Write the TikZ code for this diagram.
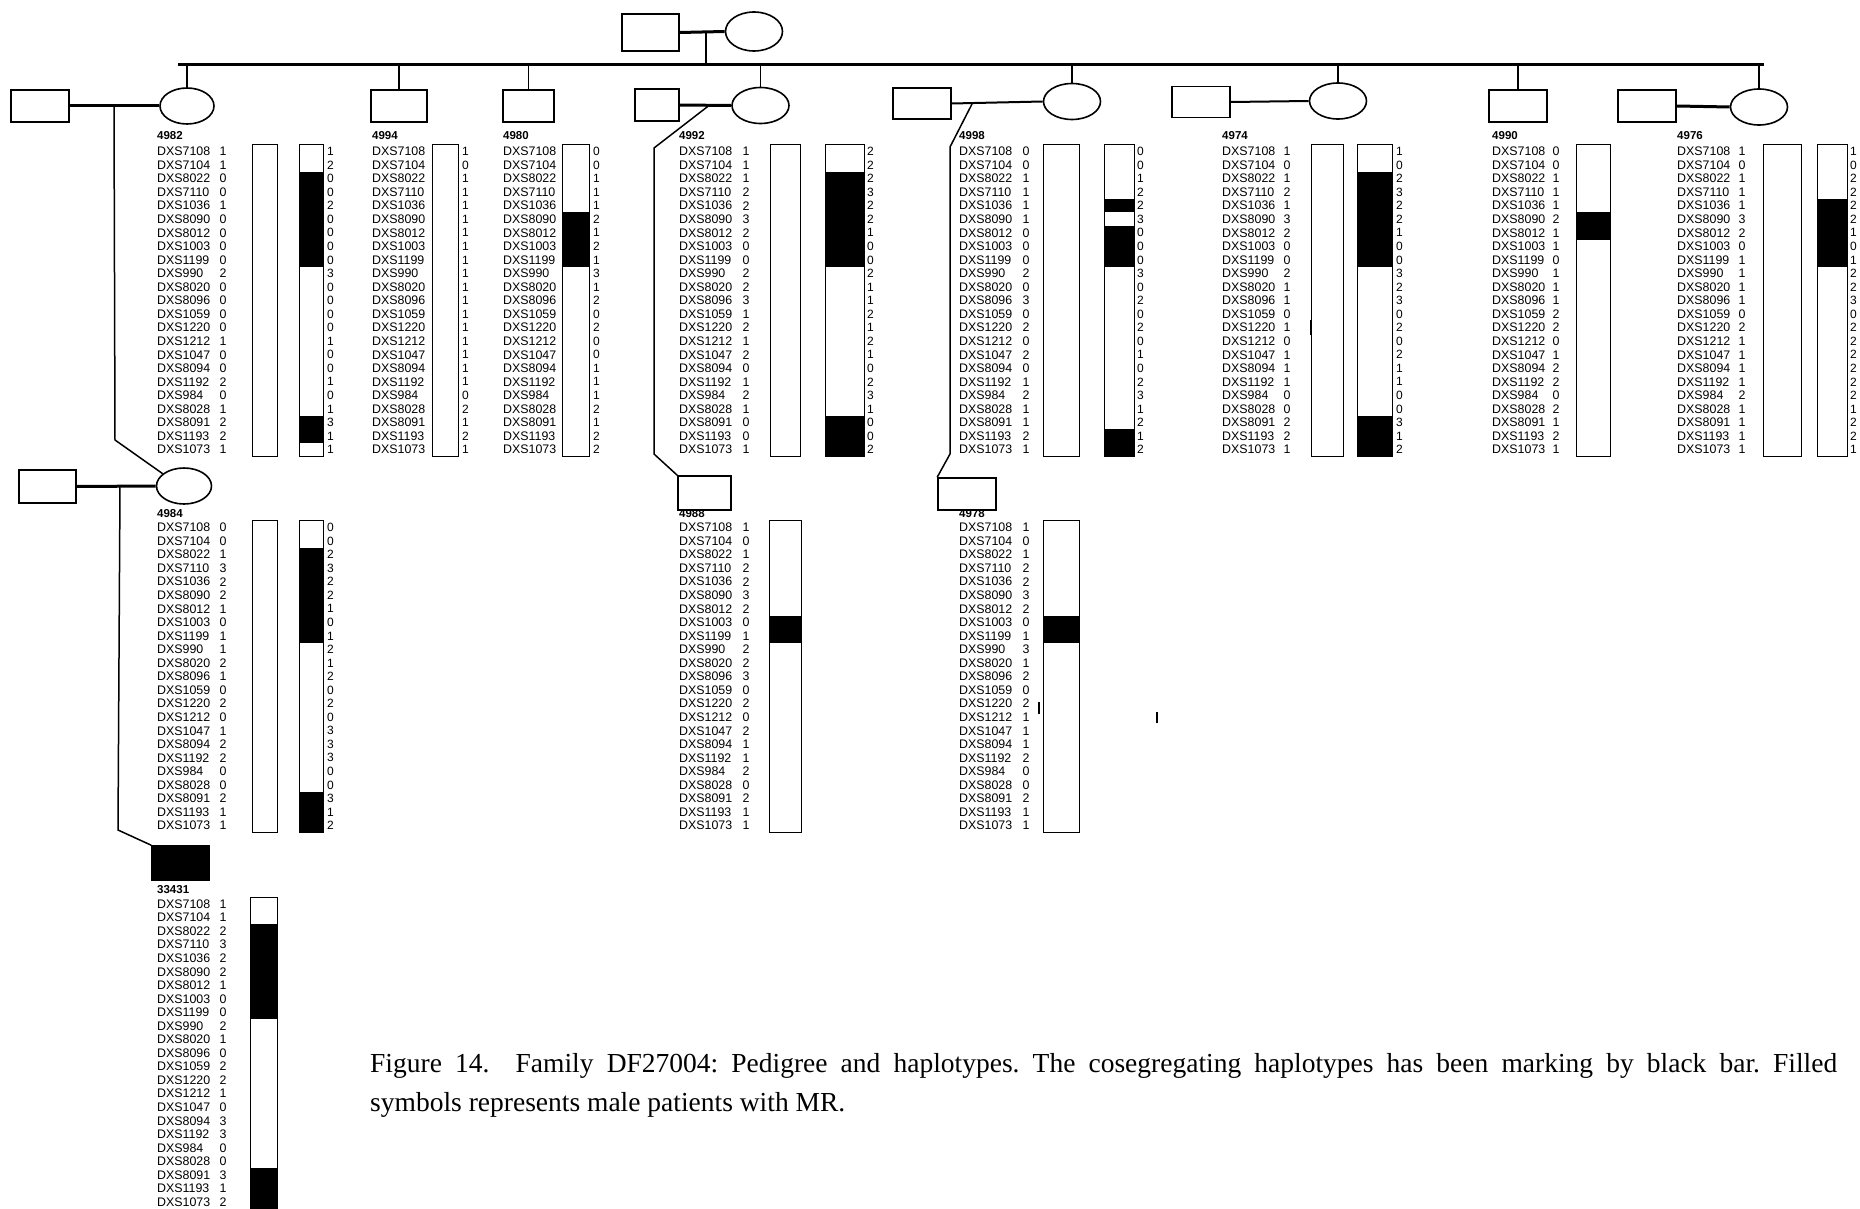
\documentclass[tikz,border=0pt]{standalone}
\usepackage{fontspec}
\setmainfont{Liberation Serif}
\newfontfamily\arialf{Liberation Sans}
\usetikzlibrary{shapes.geometric}
\frenchspacing
\def\mklist{DXS7108,DXS7104,DXS8022,DXS7110,DXS1036,DXS8090,DXS8012,DXS1003,DXS1199,DXS990,DXS8020,DXS8096,DXS1059,DXS1220,DXS1212,DXS1047,DXS8094,DXS1192,DXS984,DXS8028,DXS8091,DXS1193,DXS1073}
\def\rs{13.55}
\newcommand\hnames[5]{%
  \node[lbl] (lab#1) at (#2,#3-#5) {#4};
  \foreach \m [count=\i from 0] in \mklist
    \node[mk] (n#1-\i) at (#2,#3+\i*\rs) {\m};
}
\newcommand\halle[5]{%
  \foreach \a [count=\i from 0] in {#5}
    \node[#4] (a#1-\i) at (#2,#3+\i*\rs) {\a};
}
\newcommand\hblack[4]{%
  \foreach \s/\e in {#4}
    \fill (#1,#3+\s*\rs-6.8) rectangle (#2,#3+\e*\rs+6.8);
}
\newcommand\hframe[4]{%
  \draw[barline] (#1,#3-6.8) rectangle (#2,#4);
}
\begin{document}
\begin{tikzpicture}[x=1pt,y=-1pt,
  mk/.style={font=\arialf\fontsize{12.4}{13}\selectfont, inner sep=0pt, anchor=west},
  alc/.style={font=\arialf\fontsize{12.4}{13}\selectfont, inner sep=0pt, anchor=center},
  alw/.style={font=\arialf\fontsize{12}{13}\selectfont, inner sep=0pt, anchor=west},
  lbl/.style={font=\arialf\bfseries\fontsize{11.5}{12}\selectfont, inner sep=0pt, anchor=west},
  barline/.style={line width=1pt},
  male/.style={draw, line width=1.6pt, rectangle, inner sep=0pt},
  female/.style={draw, line width=1.6pt, ellipse, inner sep=0pt},
  mline/.style={line width=3pt},
  mthin/.style={line width=2pt},
  dline/.style={line width=1.5pt},
  capf/.style={font=\fontsize{27.5}{39}\selectfont, inner sep=0pt}]
\useasboundingbox (0,0) rectangle (1860,1209);
\fill[white] (0,0) rectangle (1860,1209);

% ---------- Generation I ----------
\node[male, minimum width=57pt, minimum height=37pt] (h0) at (650.5,32.5) {};
\node[female, minimum width=57pt, minimum height=39pt] (w0) at (754,31.5) {};
\draw[mline] (h0.east) -- (w0.west);
\coordinate (m0) at (706,33);
\coordinate (sibL) at (178,64.5);
\coordinate (sibR) at (1764,64.5);
\draw[line width=3.2pt] (sibL) -- (sibR);
\draw[dline] (m0) -- (m0 |- sibL);

% ---------- Generation II ----------
\node[male, minimum width=58pt, minimum height=32pt] (h4982) at (39.75,106) {};
\node[female, minimum width=54pt, minimum height=36pt] (c4982) at (187,106) {};
\node[male, minimum width=56pt, minimum height=32pt] (s4994) at (399,106) {};
\node[male, minimum width=51pt, minimum height=32pt] (s4980) at (528.5,106) {};
\node[male, minimum width=44pt, minimum height=32pt] (h4992) at (657,105) {};
\node[female, minimum width=57pt, minimum height=36pt] (c4992) at (760.5,105.5) {};
\node[male, minimum width=58pt, minimum height=31pt] (h4998) at (922,103.5) {};
\node[female, minimum width=57pt, minimum height=36pt] (c4998) at (1072,101.5) {};
\node[male, minimum width=58pt, minimum height=31pt] (h4974) at (1201,102) {};
\node[female, minimum width=57pt, minimum height=36pt] (c4974) at (1338,101) {};
\node[male, minimum width=58pt, minimum height=32pt] (s4990) at (1518,106) {};
\node[male, minimum width=58pt, minimum height=32pt] (h4976) at (1647,106) {};
\node[female, minimum width=57pt, minimum height=36pt] (c4976) at (1759,107) {};

\foreach \n in {c4982,s4994,s4980,c4992,c4998,c4974,s4990,c4976}
  \draw[dline] (\n.north |- sibL) -- (\n.north);

\draw[mline] (h4982.east) -- (c4982.west);
\draw[mline] (h4992.east) -- (c4992.west);
\draw[mthin] (h4998.east) -- (c4998.west);
\draw[mthin] (h4974.east) -- (c4974.west);
\draw[mline] (h4976.east) -- (c4976.west);

% ---------- Generation III ----------
\node[male, minimum width=57pt, minimum height=33pt] (h4984) at (47.5,486.5) {};
\node[female, minimum width=55pt, minimum height=36pt] (c4984) at (184,486) {};
\node[male, minimum width=53pt, minimum height=34pt] (s4988) at (704.5,493) {};
\node[male, minimum width=58pt, minimum height=32pt] (s4978) at (967,494) {};
\draw[mline] (h4984.east) -- (c4984.west);

% ---------- Generation IV ----------
\node[male, fill=black, minimum width=57pt, minimum height=34pt] (s33431) at (180.5,863) {};

% ---------- descent lines ----------
\coordinate (m4982) at (114,106);
\coordinate (k1) at (115,440);
\draw[dline] (m4982) -- (k1) -- (c4984.150);
\coordinate (m4984) at (120,486);
\coordinate (k2) at (118,830);
\draw[dline] (m4984) -- (k2) -- (s33431.north west);
\coordinate (m4992) at (709,105.5);
\coordinate (k3) at (654,148);
\coordinate (k4) at (654,454);
\draw[dline] (m4992) -- (k3) -- (k4) -- (s4988.north west);
\coordinate (m4998) at (972,104);
\coordinate (k5) at (950,147);
\coordinate (k6) at (950,454);
\draw[dline] (m4998) -- (k5) -- (k6) -- (s4978.north west);

% ---------- haplotype panels, generation II ----------
\def\ya{151.5}
\def\bba{456.4}
% 4982
\hblack{299}{323}{\ya}{2/8,20/21}
\hframe{252}{277}{\ya}{\bba}\hframe{299}{323}{\ya}{\bba}
\hnames{4982}{157}{\ya}{4982}{15.5}
\halle{4982L}{223}{\ya}{alc}{1,1,0,0,1,0,0,0,0,2,0,0,0,0,1,0,0,2,0,1,2,2,1}
\halle{4982R}{327}{\ya}{alw}{1,2,0,0,2,0,0,0,0,3,0,0,0,0,1,0,0,1,0,1,3,1,1}
% 4994
\hframe{432}{458}{\ya}{\bba}
\hnames{4994}{372}{\ya}{4994}{15.5}
\halle{4994R}{462}{\ya}{alw}{1,0,1,1,1,1,1,1,1,1,1,1,1,1,1,1,1,1,0,2,1,2,1}
% 4980
\hblack{562}{589}{\ya}{5/8}
\hframe{562}{589}{\ya}{\bba}
\hnames{4980}{503}{\ya}{4980}{15.5}
\halle{4980R}{593}{\ya}{alw}{0,0,1,1,1,2,1,2,1,3,1,2,0,2,0,0,1,1,1,2,1,2,2}
% 4992
\hblack{825}{864}{\ya}{2/8,20/22}
\hframe{770}{800}{\ya}{\bba}\hframe{825}{864}{\ya}{\bba}
\hnames{4992}{679}{\ya}{4992}{15.5}
\halle{4992L}{746}{\ya}{alc}{1,1,1,2,2,3,2,0,0,2,2,3,1,2,1,2,0,1,2,1,0,0,1}
\halle{4992R}{867}{\ya}{alw}{2,2,2,3,2,2,1,0,0,2,1,1,2,1,2,1,0,2,3,1,0,0,2}
% 4998
\hblack{1104}{1134}{\ya}{4/4,6/8,21/22}
\hframe{1043}{1079}{\ya}{\bba}\hframe{1104}{1134}{\ya}{\bba}
\hnames{4998}{959}{\ya}{4998}{15.5}
\halle{4998L}{1026}{\ya}{alc}{0,0,1,1,1,1,0,0,0,2,0,3,0,2,0,2,0,1,2,1,1,2,1}
\halle{4998R}{1137}{\ya}{alw}{0,0,1,2,2,3,0,0,0,3,0,2,0,2,0,1,0,2,3,1,2,1,2}
% 4974
\hblack{1357}{1392}{\ya}{2/8,20/22}
\hframe{1311}{1343}{\ya}{\bba}\hframe{1357}{1392}{\ya}{\bba}
\hnames{4974}{1222}{\ya}{4974}{15.5}
\halle{4974L}{1287}{\ya}{alc}{1,0,1,2,1,3,2,0,0,2,1,1,0,1,0,1,1,1,0,0,2,2,1}
\halle{4974R}{1396}{\ya}{alw}{1,0,2,3,2,2,1,0,0,3,2,3,0,2,0,2,1,1,0,0,3,1,2}
\draw[line width=2pt] (1311,320) -- (1311,335);
% 4990
\hblack{1576}{1610}{\ya}{5/6}
\hframe{1576}{1610}{\ya}{\bba}
\hnames{4990}{1492}{\ya}{4990}{15.5}
\halle{4990L}{1556}{\ya}{alc}{0,0,1,1,1,2,1,1,0,1,1,1,2,2,0,1,2,2,0,2,1,2,1}
% 4976
\hblack{1817}{1847}{\ya}{4/8}
\hframe{1763}{1801}{\ya}{\bba}\hframe{1817}{1847}{\ya}{\bba}
\hnames{4976}{1677}{\ya}{4976}{15.5}
\halle{4976L}{1742}{\ya}{alc}{1,0,1,1,1,3,2,0,1,1,1,1,0,2,1,1,1,1,2,1,1,1,1}
\halle{4976R}{1850}{\ya}{alw}{1,0,2,2,2,2,1,0,1,2,2,3,0,2,2,2,2,2,2,1,2,2,1}

% ---------- haplotype panels, generation III ----------
\def\yb{527.5}
\def\bbb{832.4}
% 4984
\hblack{299}{323}{\yb}{2/8,20/22}
\hframe{252}{277}{\yb}{\bbb}\hframe{299}{323}{\yb}{\bbb}
\hnames{4984}{157}{\yb}{4984}{13.5}
\halle{4984L}{223}{\yb}{alc}{0,0,1,3,2,2,1,0,1,1,2,1,0,2,0,1,2,2,0,0,2,1,1}
\halle{4984R}{327}{\yb}{alw}{0,0,2,3,2,2,1,0,1,2,1,2,0,2,0,3,3,3,0,0,3,1,2}
% 4988
\hblack{769}{801}{\yb}{7/8}
\hframe{769}{801}{\yb}{\bbb}
\hnames{4988}{679}{\yb}{4988}{13.5}
\halle{4988L}{746}{\yb}{alc}{1,0,1,2,2,3,2,0,1,2,2,3,0,2,0,2,1,1,2,0,2,1,1}
% 4978
\hblack{1043}{1079}{\yb}{7/8}
\hframe{1043}{1079}{\yb}{\bbb}
\hnames{4978}{959}{\yb}{4978}{13.5}
\halle{4978L}{1026}{\yb}{alc}{1,0,1,2,2,3,2,0,1,3,1,2,0,2,1,1,1,2,0,0,2,1,1}
\draw[line width=2pt] (1039,702) -- (1039,714);
\draw[line width=2pt] (1157,712) -- (1157,723);

% ---------- haplotype panel, generation IV ----------
\def\yc{904}
\hblack{250}{277}{\yc}{2/8,20/22}
\hframe{250}{277}{\yc}{1209.5}
\hnames{33431}{157}{\yc}{33431}{14.5}
\halle{33431L}{223}{\yc}{alc}{1,1,2,3,2,2,1,0,0,2,1,0,2,2,1,0,3,3,0,0,3,1,2}

% ---------- caption ----------
\node[capf, anchor=base west] (cap1) at (370,1072) {\makebox[1467pt][s]{Figure 14.\ \ Family DF27004: Pedigree and haplotypes. The cosegregating haplotypes has been marking by black bar. Filled}};
\node[capf, anchor=base west] (cap2) at (370,1111) {symbols represents male patients with MR.};
\end{tikzpicture}
\end{document}
